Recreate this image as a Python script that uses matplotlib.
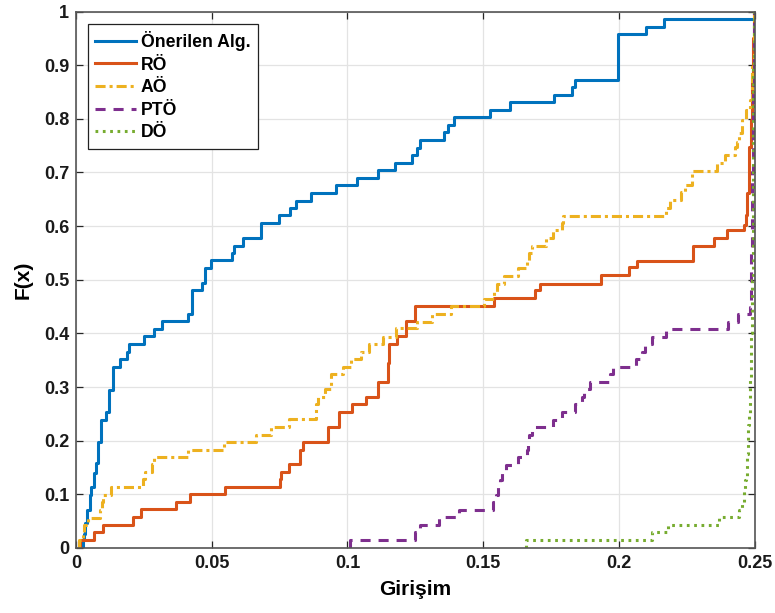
import matplotlib
matplotlib.use("Agg")
import matplotlib.pyplot as plt

plt.rcParams['font.family'] = ['Liberation Sans', 'DejaVu Sans']
plt.rcParams['font.weight'] = 'bold'

# ---------------- data (empirical CDF step points) ----------------
series_names = ["Önerilen Alg.", "RÖ", "AÖ", "PTÖ", "DÖ"]

blue_x = [0.0024, 0.0028, 0.0034, 0.0040, 0.0050, 0.0056, 0.0065, 0.0072, 0.0080, 0.0093,
          0.0110, 0.0120, 0.0136, 0.0163, 0.0187, 0.0197, 0.0249, 0.0289, 0.0318, 0.0412,
          0.0428, 0.0465, 0.0477, 0.0498, 0.0576, 0.0584, 0.0615, 0.0680, 0.0748, 0.0787,
          0.0809, 0.0865, 0.0959, 0.1035, 0.1112, 0.1174, 0.1239, 0.1258, 0.1266, 0.1356,
          0.1371, 0.1393, 0.1527, 0.1598, 0.1762, 0.1826, 0.1840, 0.1998, 0.2100, 0.2168,
          0.2500]
blue_F = [0.014, 0.027, 0.046, 0.071, 0.099, 0.114, 0.139, 0.158, 0.198, 0.239,
          0.254, 0.295, 0.338, 0.352, 0.366, 0.380, 0.395, 0.408, 0.424, 0.437,
          0.480, 0.494, 0.521, 0.536, 0.550, 0.563, 0.577, 0.606, 0.621, 0.633,
          0.647, 0.661, 0.677, 0.690, 0.705, 0.718, 0.733, 0.746, 0.760, 0.775,
          0.788, 0.803, 0.816, 0.831, 0.844, 0.859, 0.872, 0.958, 0.972, 0.986,
          1.000]

red_x = [0.0013, 0.0065, 0.0099, 0.0210, 0.0240, 0.0367, 0.0421, 0.0548, 0.0750, 0.0757,
         0.0785, 0.0827, 0.0836, 0.0929, 0.0969, 0.1018, 0.1070, 0.1113, 0.1150, 0.1153,
         0.1183, 0.1215, 0.1248, 0.1540, 0.1692, 0.1709, 0.1933, 0.2038, 0.2066, 0.2272,
         0.2350, 0.2397, 0.2461, 0.2468, 0.2473, 0.2479, 0.2481, 0.2486, 0.2490, 0.2494,
         0.2497]
red_F = [0.015, 0.029, 0.043, 0.057, 0.072, 0.086, 0.100, 0.113, 0.128, 0.142,
         0.157, 0.183, 0.197, 0.225, 0.254, 0.268, 0.282, 0.310, 0.345, 0.380,
         0.395, 0.424, 0.451, 0.466, 0.480, 0.493, 0.508, 0.523, 0.535, 0.563,
         0.577, 0.592, 0.602, 0.621, 0.661, 0.711, 0.748, 0.798, 0.880, 0.950,
         1.000]

yel_x = [0.0010, 0.0025, 0.0031, 0.0044, 0.0087, 0.0094, 0.0101, 0.0130, 0.0246, 0.0253,
         0.0281, 0.0286, 0.0412, 0.0544, 0.0662, 0.0720, 0.0785, 0.0883, 0.0886, 0.0892,
         0.0916, 0.0941, 0.0984, 0.1015, 0.1050, 0.1078, 0.1131, 0.1180, 0.1257, 0.1313,
         0.1380, 0.1503, 0.1540, 0.1552, 0.1576, 0.1629, 0.1660, 0.1669, 0.1680, 0.1731,
         0.1756, 0.1789, 0.1795, 0.2174, 0.2188, 0.2231, 0.2244, 0.2268, 0.2361, 0.2391,
         0.2428, 0.2434, 0.2444, 0.2453, 0.2468, 0.2483, 0.2490, 0.2497]
yel_F = [0.014, 0.029, 0.042, 0.056, 0.071, 0.085, 0.099, 0.113, 0.128, 0.142,
         0.156, 0.170, 0.183, 0.197, 0.211, 0.226, 0.240, 0.255, 0.268, 0.282,
         0.296, 0.324, 0.338, 0.352, 0.366, 0.380, 0.394, 0.410, 0.422, 0.436,
         0.451, 0.464, 0.478, 0.493, 0.507, 0.521, 0.535, 0.549, 0.563, 0.577,
         0.593, 0.606, 0.619, 0.633, 0.649, 0.664, 0.677, 0.703, 0.717, 0.732,
         0.748, 0.757, 0.773, 0.798, 0.816, 0.835, 0.900, 1.000]

pur_x = [0.1008, 0.1248, 0.1266, 0.1338, 0.1411, 0.1537, 0.1548, 0.1555, 0.1562, 0.1568,
         0.1586, 0.1629, 0.1660, 0.1664, 0.1668, 0.1680, 0.1758, 0.1789, 0.1838, 0.1866,
         0.1871, 0.1893, 0.1967, 0.1977, 0.2063, 0.2085, 0.2096, 0.2121, 0.2174, 0.2403,
         0.2440, 0.2483, 0.2488, 0.2492, 0.2495, 0.2498]
pur_F = [0.014, 0.029, 0.043, 0.057, 0.071, 0.085, 0.099, 0.113, 0.127, 0.141,
         0.155, 0.169, 0.183, 0.197, 0.211, 0.225, 0.239, 0.254, 0.268, 0.282,
         0.296, 0.310, 0.324, 0.338, 0.352, 0.366, 0.380, 0.394, 0.408, 0.422,
         0.436, 0.450, 0.550, 0.700, 0.850, 1.000]

grn_x = [0.1657, 0.2124, 0.2182, 0.2370, 0.2444, 0.2453, 0.2461, 0.2465, 0.2468, 0.2471,
         0.2473, 0.2475, 0.2477, 0.2480, 0.2483, 0.2486, 0.2490, 0.2493, 0.2495, 0.2498]
grn_F = [0.015, 0.029, 0.043, 0.057, 0.071, 0.086, 0.108, 0.127, 0.133, 0.158,
         0.176, 0.207, 0.230, 0.251, 0.313, 0.400, 0.500, 0.700, 0.900, 1.000]

x_ticks = [0, 0.05, 0.1, 0.15, 0.2, 0.25]
x_tick_labels = ["0", "0.05", "0.1", "0.15", "0.2", "0.25"]
y_ticks = [0, 0.1, 0.2, 0.3, 0.4, 0.5, 0.6, 0.7, 0.8, 0.9, 1]
y_tick_labels = ["0", "0.1", "0.2", "0.3", "0.4", "0.5", "0.6", "0.7", "0.8", "0.9", "1"]

# ---------------- styling ----------------
colors = ["#0072BD", "#D95319", "#EDB120", "#7E2F8E", "#77AC30"]
dash_patterns = [None, None, (3.3, 1.3, 1.0, 1.3), (3.3, 2.6), (0.9, 1.5)]

fig = plt.figure(figsize=(7.75, 6.13), dpi=100)
ax = fig.add_axes([76 / 775, 65 / 613, (754.5 - 76) / 775, (548 - 11.5) / 613])

all_series = [(blue_x, blue_F), (red_x, red_F), (yel_x, yel_F), (pur_x, pur_F), (grn_x, grn_F)]
for (xs, fs), name, c, dp in zip(all_series, series_names, colors, dash_patterns):
    px = [xs[0]] + list(xs) + [0.25]
    py = [0.0] + list(fs) + [1.0]
    line, = ax.step(px, py, where='post', color=c, linewidth=2.2, label=name)
    if dp is not None:
        line.set_dashes(dp)

ax.set_xlim(0, 0.25)
ax.set_ylim(0, 1)
ax.set_xticks(x_ticks)
ax.set_xticklabels(x_tick_labels)
ax.set_yticks(y_ticks)
ax.set_yticklabels(y_tick_labels)
ax.tick_params(direction='in', top=True, right=True, length=5, width=0.9,
               labelsize=13, colors='#262626', labelcolor='#1a1a1a', pad=5)
for lab in ax.get_xticklabels() + ax.get_yticklabels():
    lab.set_fontweight('bold')
ax.grid(True, color='#e3e3e3', linewidth=0.9)
ax.set_axisbelow(True)
for sp in ax.spines.values():
    sp.set_color('#555555')
    sp.set_linewidth(1.2)

ax.set_xlabel("Girişim", fontsize=15, fontweight='bold', labelpad=6)
ax.set_ylabel("F(x)", fontsize=15, fontweight='bold', labelpad=8)

leg = ax.legend(loc='upper left', bbox_to_anchor=(0.0177, 0.977), borderaxespad=0,
                prop={'size': 12.7, 'weight': 'bold'}, fancybox=False, framealpha=1,
                edgecolor='#222222', handlelength=2.3, handletextpad=0.3,
                labelspacing=0.32, borderpad=0.4)
leg.get_frame().set_linewidth(0.9)

fig.savefig("out.png", dpi=100)
